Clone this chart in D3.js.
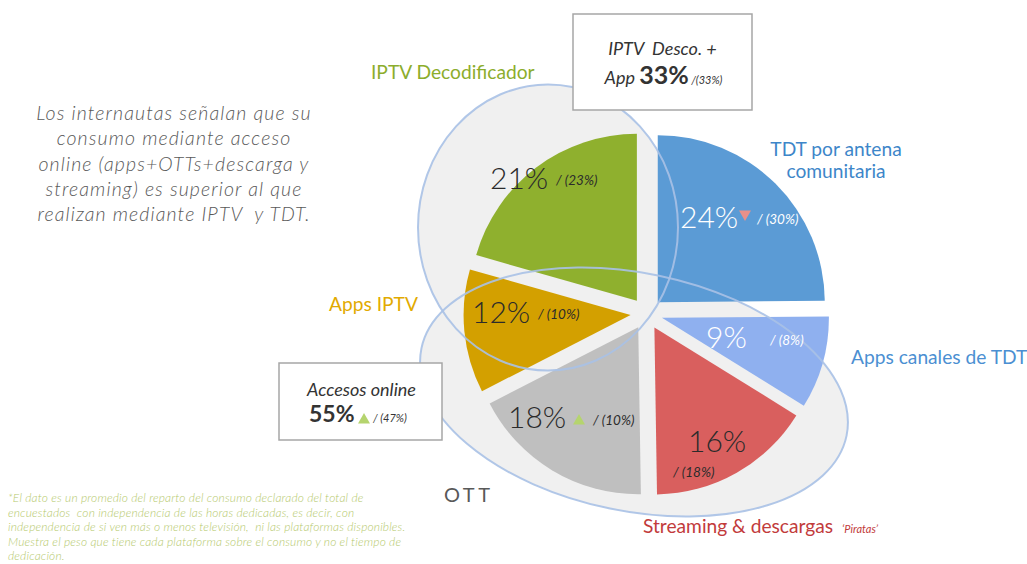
<!DOCTYPE html>
<html>
<head>
<meta charset="utf-8">
<script src="https://cdnjs.cloudflare.com/ajax/libs/d3/7.8.5/d3.min.js"></script>
<style>
  body { margin: 0; background: #fff; }
  svg { display: block; font-family: Lato, "Open Sans", sans-serif; }
  text { white-space: pre; }
</style>
</head>
<body>
<div id="chart"></div>
<script>
// slices, clockwise from 12 o'clock
const platforms = ['TDT por antena comunitaria', 'Apps canales de TDT', 'Streaming & descargas', 'OTT', 'Apps IPTV', 'IPTV Decodificador'];
// share each slice takes in the drawing
const shares = [25, 9, 16, 17.8, 12, 20.7];
// printed values: current and (previous)
const pctLabels = ['24%', '9%', '16%', '18%', '12%', '21%'];
const prevLabels = ['/ (30%)', '/ (8%)', '/ (18%)', '/ (10%)', '/ (10%)', '/ (23%)'];
const trends = ['down', null, null, 'up', null, null];

const groupIPTV = { title: 'IPTV  Desco. +', lead: 'App ', pct: '33%', prev: ' /(33%)' };
const groupOnline = { title: 'Accesos online', pct: '55%', prev: '/ (47%)', trend: 'up' };

const paragraph = [
    'Los internautas señalan que su',
    'consumo mediante acceso',
    'online (apps+OTTs+descarga y',
    'streaming) es superior al que',
    'realizan mediante IPTV  y TDT.'
];
const footnote = [
    '*El dato es un promedio del reparto del consumo declarado del total de',
    'encuestados  con independencia de las horas dedicadas, es decir, con',
    'independencia de si ven más o menos televisión,  ni las plataformas disponibles.',
    'Muestra el peso que tiene cada plataforma sobre el consumo y no el tiempo de',
    'dedicación.'
];

// styles
const sliceColors = ['#5b9bd5', '#8fb0ef', '#d95f5e', '#bfbfbf', '#d3a000', '#8fb02e'];
const labelInk = ['#fff', '#fff', '#2b2b2b', '#2b2b2b', '#2b2b2b', '#2b2b2b'];
const trendColors = { up: '#b5d46e', down: '#e8908a' };

const W = 1027, H = 564;
const cx = 646.5, cy = 313.5, R = 167, explode = 16;

// where the big number of each slice starts (from pie centre) and where its small text sits
const labelOffsets = [[33.5, -85.5], [59.5, 34.5], [41.5, 138.5], [-138.5, 114.5], [-174.5, 9.5], [-156.5, -124.5]];
const prevOffsets = [[77, -4], [64, -3], [-15, 25], [85, -3], [66, -4], [66, -4]];
const trendOffsets = [[65, -14], null, null, [71, -7], null, null];

const svg = d3.select('#chart').append('svg')
    .attr('width', W)
    .attr('height', H);

const rows = platforms.map((p, i) => ({
    name: p, share: shares[i], pct: pctLabels[i], prev: prevLabels[i], trend: trends[i], i: i
}));

const pie = d3.pie().sort(null).value(d => d.share);
const arc = d3.arc().innerRadius(0).outerRadius(R);
const arcs = pie(rows);

const canvas = svg.append('g')
    .attr('transform', 'translate(' + cx + ',' + cy + ')');

// the two grouping ellipses
const ellipses = [
    { x: -98.5, y: -86, rx: 130, ry: 143, rot: 0 },
    { x: -12.5, y: 78.5, rx: 217, ry: 119, rot: 11.6 }
];
canvas.selectAll('ellipse.fill')
    .data(ellipses)
    .enter().append('ellipse')
    .attr('class', 'fill')
    .attr('rx', d => d.rx)
    .attr('ry', d => d.ry)
    .attr('transform', d => 'translate(' + d.x + ',' + d.y + ') rotate(' + d.rot + ')')
    .style('fill', '#f0f0f0');

// exploded slices
canvas.selectAll('path.slice')
    .data(arcs)
    .enter().append('path')
    .attr('class', 'slice')
    .attr('d', arc)
    .attr('transform', d => {
        let a = (d.startAngle + d.endAngle) / 2;
        return 'translate(' + (explode * Math.sin(a)) + ',' + (-explode * Math.cos(a)) + ')';
    })
    .style('fill', d => sliceColors[d.data.i]);

canvas.selectAll('ellipse.ring')
    .data(ellipses)
    .enter().append('ellipse')
    .attr('class', 'ring')
    .attr('rx', d => d.rx)
    .attr('ry', d => d.ry)
    .attr('transform', d => 'translate(' + d.x + ',' + d.y + ') rotate(' + d.rot + ')')
    .style('fill', 'none')
    .style('stroke', '#a9c1e6')
    .style('stroke-width', 2)
    .style('stroke-opacity', 0.9);

const triangle = d3.symbol().type(d3.symbolTriangle).size(62);

// values inside the slices
arcs.forEach(d => {
    let i = d.data.i;
    let g = canvas.append('g')
        .attr('transform', 'translate(' + labelOffsets[i][0] + ',' + labelOffsets[i][1] + ')');
    g.append('text')
        .attr('font-size', 30)
        .attr('font-weight', 300)
        .style('fill', labelInk[i])
        .text(d.data.pct);
    g.append('text')
        .attr('x', prevOffsets[i][0])
        .attr('y', prevOffsets[i][1])
        .attr('font-size', 13.5)
        .attr('font-style', 'italic')
        .style('fill', labelInk[i])
        .text(d.data.prev);
    if (d.data.trend) {
        g.append('path')
            .attr('d', triangle)
            .attr('transform', 'translate(' + trendOffsets[i][0] + ',' + trendOffsets[i][1] + ')' +
                (d.data.trend === 'down' ? ' rotate(180)' : ''))
            .style('fill', trendColors[d.data.trend]);
    }
});

// slice names round the pie
const names = [
    { lines: ['TDT por antena', 'comunitaria'], x: 836, y: 156, anchor: 'middle', color: '#3d86c9' },
    { lines: ['Apps canales de TDT'], x: 851, y: 364, anchor: 'start', color: '#4b8fd2' },
    { lines: ['Streaming & descargas'], x: 643, y: 533, anchor: 'start', color: '#c23b3b' },
    { lines: ['OTT'], x: 444, y: 502, anchor: 'start', color: '#595959' },
    { lines: ['Apps IPTV'], x: 329, y: 311, anchor: 'start', color: '#e2aa00' },
    { lines: ['IPTV Decodificador'], x: 371, y: 79, anchor: 'start', color: '#8cad2c' }
];
names.forEach((n, k) => {
    let isOTT = platforms[k] === 'OTT';
    let t = svg.append('text')
        .attr('x', n.x)
        .attr('y', n.y)
        .attr('text-anchor', n.anchor)
        .attr('font-size', isOTT ? 20 : 19.2)
        .attr('letter-spacing', isOTT ? 3.5 : 0)
        .style('fill', n.color);
    n.lines.forEach((l, j) => {
        t.append('tspan').attr('x', n.x).attr('dy', j ? 22 : 0).text(l);
    });
});
svg.append('text')
    .attr('x', 842)
    .attr('y', 533)
    .attr('font-size', 11)
    .attr('font-style', 'italic')
    .style('fill', '#c23b3b')
    .text('\u2018Piratas\u2019');

// boxes
function box(x, y, w, h) {
    svg.append('rect')
        .attr('x', x).attr('y', y)
        .attr('width', w).attr('height', h)
        .style('fill', '#fff')
        .style('stroke', '#a6a6a6')
        .style('stroke-width', 1.5);
}

box(573, 14, 179, 96);
svg.append('text')
    .attr('x', 662.5).attr('y', 55)
    .attr('text-anchor', 'middle')
    .attr('font-size', 18)
    .attr('font-style', 'italic')
    .style('fill', '#333')
    .text(groupIPTV.title);
let t2 = svg.append('text')
    .attr('x', 663.5).attr('y', 84)
    .attr('text-anchor', 'middle')
    .style('fill', '#333');
t2.append('tspan').attr('font-size', 18).attr('font-style', 'italic').text(groupIPTV.lead);
t2.append('tspan').attr('font-size', 25).attr('font-weight', 'bold').text(groupIPTV.pct);
t2.append('tspan').attr('font-size', 11).attr('font-style', 'italic').text(groupIPTV.prev);

box(279, 363, 163, 77);
svg.append('text')
    .attr('x', 361.5).attr('y', 396)
    .attr('text-anchor', 'middle')
    .attr('font-size', 18)
    .attr('font-style', 'italic')
    .style('fill', '#333')
    .text(groupOnline.title);
svg.append('text')
    .attr('x', 309).attr('y', 422)
    .attr('font-size', 23)
    .attr('font-weight', 'bold')
    .style('fill', '#333')
    .text(groupOnline.pct);
svg.append('path')
    .attr('d', triangle)
    .attr('transform', 'translate(364,420)')
    .style('fill', trendColors[groupOnline.trend]);
svg.append('text')
    .attr('x', 373).attr('y', 422)
    .attr('font-size', 11)
    .attr('font-style', 'italic')
    .style('fill', '#333')
    .text(groupOnline.prev);

// comment on the left
svg.append('g').selectAll('text')
    .data(paragraph)
    .enter().append('text')
    .attr('x', 174)
    .attr('y', (d, i) => 120 + i * 25.3)
    .attr('text-anchor', 'middle')
    .attr('font-size', 19.5)
    .attr('letter-spacing', 1.1)
    .attr('font-style', 'italic')
    .attr('font-weight', 300)
    .style('fill', '#595959')
    .text(d => d);

// footnote
svg.append('g').selectAll('text')
    .data(footnote)
    .enter().append('text')
    .attr('x', 8)
    .attr('y', (d, i) => 502 + i * 14.5)
    .attr('font-size', 12)
    .attr('letter-spacing', 0.15)
    .attr('font-style', 'italic')
    .attr('font-weight', 300)
    .style('fill', '#b5c96c')
    .text(d => d);
</script>
</body>
</html>
